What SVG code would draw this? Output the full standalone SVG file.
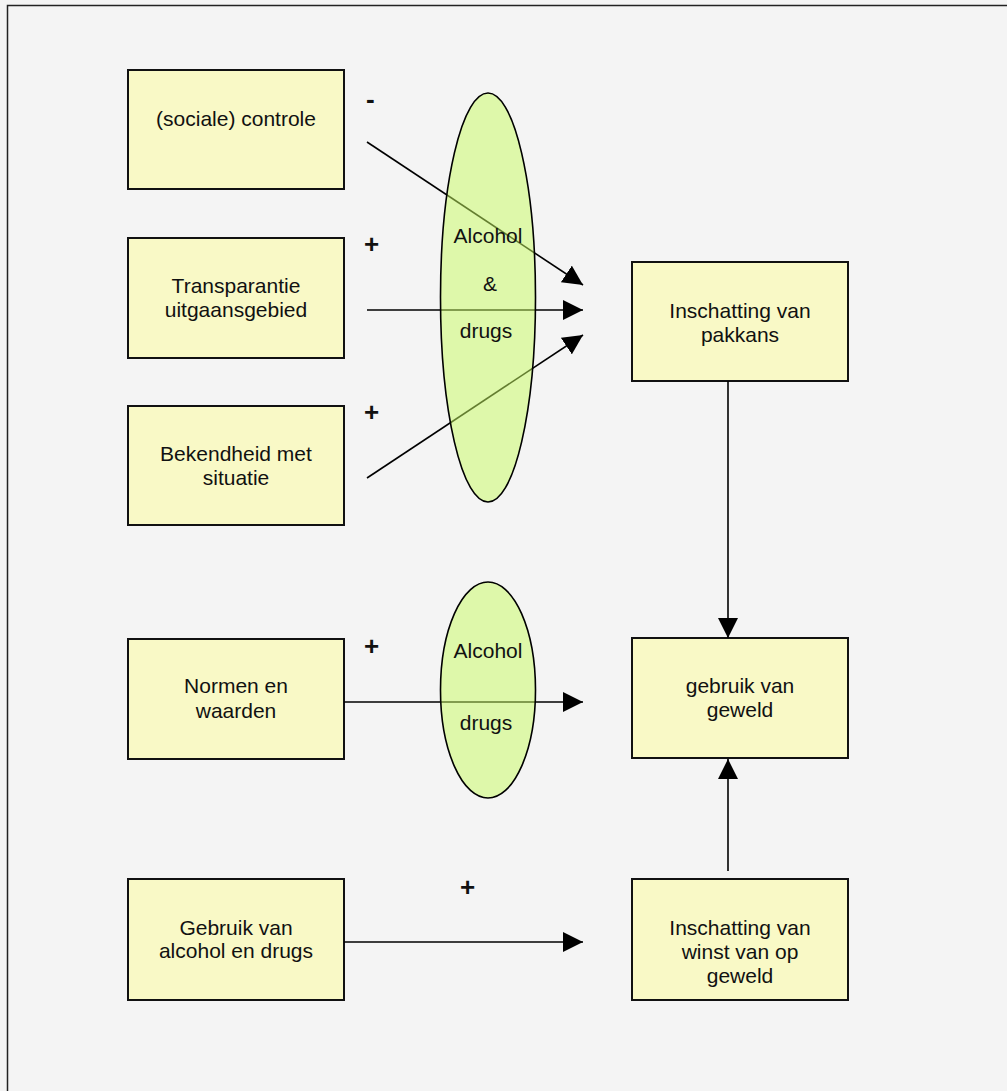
<svg xmlns="http://www.w3.org/2000/svg" width="1007" height="1091" viewBox="0 0 1007 1091">
  <defs>
    <style>
      .box { fill: #f9f9c6; stroke: #111; stroke-width: 2; }
      .ell { fill: #c8fc60; fill-opacity: 0.5; stroke: #000; stroke-width: 1.6; }
      .t { font-family: "Liberation Sans", Arial, sans-serif; font-size: 21px; fill: #111; text-anchor: middle; }
      .sign { font-family: "Liberation Sans", Arial, sans-serif; font-size: 26px; font-weight: bold; fill: #111; }
      .conn { stroke: #000; stroke-width: 1.6; fill: none; marker-end: url(#arrow); }
    </style>
    <marker id="arrow" viewBox="0 0 20 20" refX="20" refY="10" markerWidth="20" markerHeight="20" markerUnits="userSpaceOnUse" orient="auto">
      <path d="M0,0 L20,10 L0,20 Z" fill="#000"/>
    </marker>
  </defs>

  <rect x="0" y="0" width="1007" height="1091" fill="#f4f4f4"/>
  <rect id="frame" x="7.5" y="5.5" width="1100" height="1200" fill="#f4f4f4" stroke="#222" stroke-width="1.5"/>

  <g id="n-sociale">
    <rect class="box" x="128" y="70" width="216" height="119"/>
    <text class="t" x="236" y="126">(sociale) controle</text>
  </g>
  <g id="n-transparantie">
    <rect class="box" x="128" y="238" width="216" height="120"/>
    <text class="t" x="236" y="293">Transparantie</text>
    <text class="t" x="236" y="317">uitgaansgebied</text>
  </g>
  <g id="n-bekendheid">
    <rect class="box" x="128" y="406" width="216" height="119"/>
    <text class="t" x="236" y="461">Bekendheid met</text>
    <text class="t" x="236" y="485">situatie</text>
  </g>
  <g id="n-pakkans">
    <rect class="box" x="632" y="262" width="216" height="119"/>
    <text class="t" x="740" y="318">Inschatting van</text>
    <text class="t" x="740" y="342">pakkans</text>
  </g>
  <g id="n-normen">
    <rect class="box" x="128" y="639" width="216" height="120"/>
    <text class="t" x="236" y="693">Normen en</text>
    <text class="t" x="236" y="718">waarden</text>
  </g>
  <g id="n-geweld">
    <rect class="box" x="632" y="638" width="216" height="120"/>
    <text class="t" x="740" y="693">gebruik van</text>
    <text class="t" x="740" y="717">geweld</text>
  </g>
  <g id="n-gebruik">
    <rect class="box" x="128" y="879" width="216" height="121"/>
    <text class="t" x="236" y="935">Gebruik van</text>
    <text class="t" x="236" y="958">alcohol en drugs</text>
  </g>
  <g id="n-winst">
    <rect class="box" x="632" y="879" width="216" height="121"/>
    <text class="t" x="740" y="935">Inschatting van</text>
    <text class="t" x="740" y="959">winst van op</text>
    <text class="t" x="740" y="983">geweld</text>
  </g>

  <g id="connectors">
    <line class="conn" x1="367" y1="142" x2="583" y2="285"/>
    <line class="conn" x1="367" y1="310" x2="583" y2="310"/>
    <line class="conn" x1="367" y1="478" x2="583" y2="335"/>
    <line class="conn" x1="344" y1="702" x2="583" y2="702"/>
    <line class="conn" x1="344" y1="942" x2="583" y2="942"/>
    <line class="conn" x1="728" y1="381" x2="728" y2="638"/>
    <line class="conn" x1="728" y1="871" x2="728" y2="759"/>
  </g>

  <g id="n-alcohol1">
    <ellipse class="ell" cx="488" cy="297.5" rx="47.5" ry="204.5"/>
    <text class="t" x="488" y="243">Alcohol</text>
    <text class="t" x="490" y="291">&amp;</text>
    <text class="t" x="486" y="338">drugs</text>
  </g>
  <g id="n-alcohol2">
    <ellipse class="ell" cx="488" cy="690" rx="47.5" ry="108"/>
    <text class="t" x="488" y="658">Alcohol</text>
    <text class="t" x="486" y="730">drugs</text>
  </g>

  <g id="signs">
    <text class="sign" x="366" y="108">-</text>
    <text class="sign" x="364" y="253">+</text>
    <text class="sign" x="364" y="421">+</text>
    <text class="sign" x="364" y="655">+</text>
    <text class="sign" x="460" y="896">+</text>
  </g>
</svg>
